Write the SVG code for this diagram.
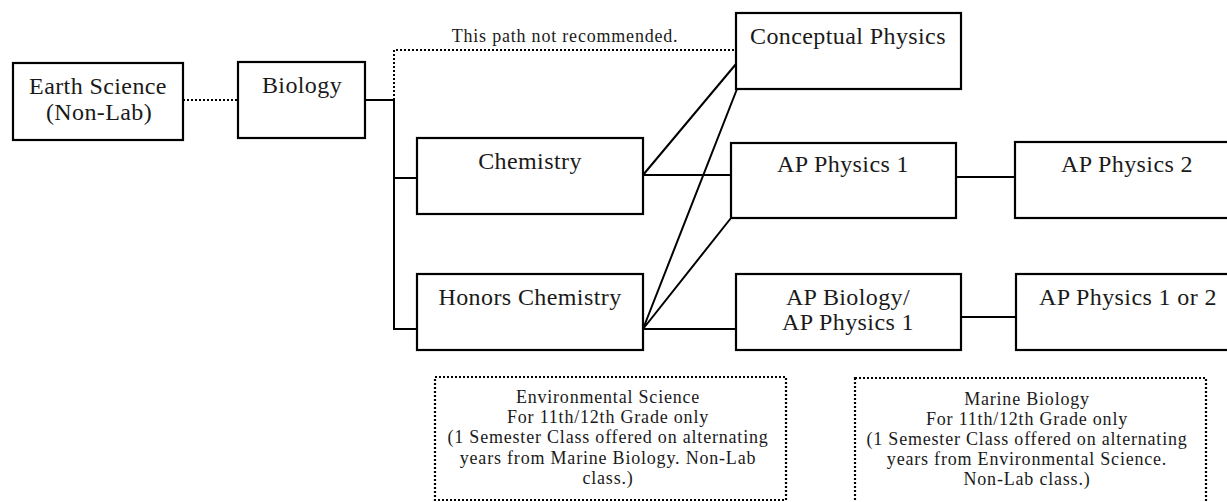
<svg xmlns="http://www.w3.org/2000/svg" width="1227" height="502" viewBox="0 0 1227 502">
<style>
.box{fill:#fff;stroke:#000;stroke-width:2.2}
.note{fill:#fff;stroke:#000;stroke-width:2.2;stroke-dasharray:2 2}
.ln{fill:none;stroke:#000;stroke-width:2}
.dot{fill:none;stroke:#000;stroke-width:2;stroke-dasharray:2 2}
.t{font-family:"Liberation Serif","DejaVu Serif",serif;font-size:24px;letter-spacing:0.4px;fill:#1a1a1a;text-anchor:middle}
.s{font-family:"Liberation Serif","DejaVu Serif",serif;font-size:18px;letter-spacing:0.8px;fill:#1a1a1a;text-anchor:middle}
</style>
<rect width="1227" height="502" fill="#fff"/>
<g id="connectors">
<path class="dot" d="M183 100H238"/>
<path class="dot" d="M394 100V50H736"/>
<path class="ln" d="M365 100H394V329H417M394 178H417"/>
<path class="ln" d="M643 175L736 64M643 175H731"/>
<path class="ln" d="M643 329L737 89M643 329L731 218M643 329H736"/>
<path class="ln" d="M956 177H1015M961 317H1016"/>
<text class="s" x="565" y="42">This path not recommended.</text>
</g>
<g id="earth"><rect class="box" x="13" y="63" width="170" height="77"/><text class="t" x="98" y="94">Earth Science</text><text class="t" x="99" y="120">(Non-Lab)</text></g>
<g id="biology"><rect class="box" x="238" y="62" width="127" height="76"/><text class="t" x="302" y="93">Biology</text></g>
<g id="chemistry"><rect class="box" x="417" y="138" width="226" height="76"/><text class="t" x="530" y="169">Chemistry</text></g>
<g id="honors-chemistry"><rect class="box" x="417" y="274" width="226" height="76"/><text class="t" x="530" y="305">Honors Chemistry</text></g>
<g id="conceptual-physics"><rect class="box" x="736" y="13" width="225" height="76"/><text class="t" x="848" y="44">Conceptual Physics</text></g>
<g id="ap-physics-1"><rect class="box" x="731" y="143" width="225" height="75"/><text class="t" x="843" y="172">AP Physics 1</text></g>
<g id="ap-biology"><rect class="box" x="736" y="274" width="225" height="76"/><text class="t" x="848" y="305">AP Biology/</text><text class="t" x="848" y="330">AP Physics 1</text></g>
<g id="ap-physics-2"><rect class="box" x="1015" y="142" width="230" height="76"/><text class="t" x="1127" y="172">AP Physics 2</text></g>
<g id="ap-physics-1-or-2"><rect class="box" x="1016" y="274" width="230" height="76"/><text class="t" x="1128" y="305">AP Physics 1 or 2</text></g>
<g id="environmental-science"><rect class="note" x="435" y="377" width="351" height="123"/>
<text class="s" x="608" y="403">Environmental Science</text>
<text class="s" x="608" y="423">For 11th/12th Grade only</text>
<text class="s" x="608" y="443">(1 Semester Class offered on alternating</text>
<text class="s" x="608" y="464">years from Marine Biology. Non-Lab</text>
<text class="s" x="608" y="484">class.)</text></g>
<g id="marine-biology"><rect class="note" x="855" y="378" width="351" height="140"/>
<text class="s" x="1027" y="405">Marine Biology</text>
<text class="s" x="1027" y="425">For 11th/12th Grade only</text>
<text class="s" x="1027" y="445">(1 Semester Class offered on alternating</text>
<text class="s" x="1027" y="465">years from Environmental Science.</text>
<text class="s" x="1027" y="485">Non-Lab class.)</text></g>
</svg>
